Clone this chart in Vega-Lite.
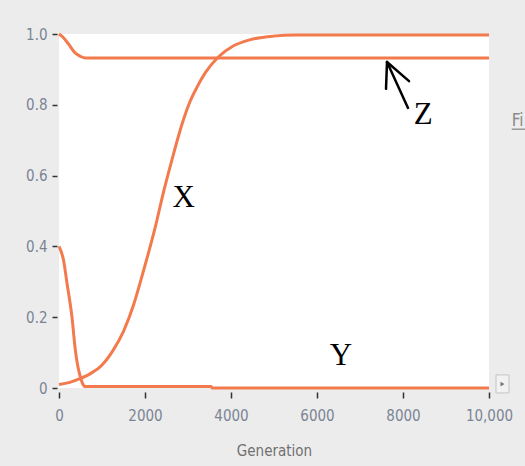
{
  "$schema": "https://vega.github.io/schema/vega-lite/v6.json",
  "autosize": {"type": "none"},
  "padding": {"left": 59, "top": 34, "right": 36, "bottom": 78},
  "width": 430,
  "height": 354,
  "background": "#ececec",
  "view": {"fill": "white", "stroke": null},
  "config": {
    "axis": {
      "grid": false,
      "domain": false,
      "labelFont": "DejaVu Sans Condensed",
      "labelFontSize": 15,
      "labelColor": "#7b8494",
      "tickColor": "#333333",
      "tickWidth": 1.5,
      "titleFont": "DejaVu Sans Condensed",
      "titleFontSize": 15,
      "titleFontWeight": "normal",
      "titleColor": "#707070"
    }
  },
  "layer": [
    {
      "data": {
        "values": [
          {"series": "X", "gen": 0, "value": 0.010},
          {"series": "X", "gen": 250, "value": 0.016},
          {"series": "X", "gen": 500, "value": 0.027},
          {"series": "X", "gen": 750, "value": 0.042},
          {"series": "X", "gen": 1000, "value": 0.065},
          {"series": "X", "gen": 1250, "value": 0.105},
          {"series": "X", "gen": 1500, "value": 0.160},
          {"series": "X", "gen": 1735, "value": 0.235},
          {"series": "X", "gen": 1967, "value": 0.332},
          {"series": "X", "gen": 2240, "value": 0.455},
          {"series": "X", "gen": 2433, "value": 0.555},
          {"series": "X", "gen": 2628, "value": 0.645},
          {"series": "X", "gen": 2860, "value": 0.745},
          {"series": "X", "gen": 3050, "value": 0.810},
          {"series": "X", "gen": 3210, "value": 0.850},
          {"series": "X", "gen": 3400, "value": 0.890},
          {"series": "X", "gen": 3705, "value": 0.935},
          {"series": "X", "gen": 4050, "value": 0.966},
          {"series": "X", "gen": 4450, "value": 0.984},
          {"series": "X", "gen": 4980, "value": 0.994},
          {"series": "X", "gen": 5500, "value": 0.997},
          {"series": "X", "gen": 10000, "value": 0.997},
          {"series": "Y", "gen": 0, "value": 0.400},
          {"series": "Y", "gen": 107, "value": 0.360},
          {"series": "Y", "gen": 186, "value": 0.296},
          {"series": "Y", "gen": 302, "value": 0.200},
          {"series": "Y", "gen": 380, "value": 0.107},
          {"series": "Y", "gen": 440, "value": 0.060},
          {"series": "Y", "gen": 495, "value": 0.032},
          {"series": "Y", "gen": 550, "value": 0.012},
          {"series": "Y", "gen": 612, "value": 0.004},
          {"series": "Y", "gen": 3540, "value": 0.004},
          {"series": "Y", "gen": 3560, "value": 0.0},
          {"series": "Y", "gen": 10000, "value": 0.0},
          {"series": "Z", "gen": 0, "value": 1.0},
          {"series": "Z", "gen": 100, "value": 0.99},
          {"series": "Z", "gen": 220, "value": 0.972},
          {"series": "Z", "gen": 380, "value": 0.946},
          {"series": "Z", "gen": 500, "value": 0.937},
          {"series": "Z", "gen": 610, "value": 0.932},
          {"series": "Z", "gen": 10000, "value": 0.932}
        ]
      },
      "mark": {"type": "line", "color": "#f37a4c", "strokeWidth": 3, "interpolate": "monotone"},
      "encoding": {
        "x": {
          "field": "gen", "type": "quantitative",
          "scale": {"domain": [0, 10000], "nice": false},
          "title": "Generation",
          "axis": {
            "values": [0, 2000, 4000, 6000, 8000, 10000],
            "labelExpr": "datum.value == 10000 ? '10,000' : '' + datum.value",
            "tickSize": 6,
            "offset": 4,
            "labelPadding": 10,
            "labelFlush": false,
            "labelOverlap": false,
            "titlePadding": 20
          }
        },
        "y": {
          "field": "value", "type": "quantitative",
          "scale": {"domain": [0, 1], "nice": false},
          "title": null,
          "axis": {
            "values": [0, 0.1, 0.2, 0.3, 0.4, 0.5, 0.6, 0.7, 0.8, 0.9, 1.0],
            "labelExpr": "round(datum.value * 10) % 2 == 0 ? (datum.value == 0 ? '0' : format(datum.value, '.1f')) : ''",
            "tickSize": 5,
            "offset": 2,
            "labelPadding": 5,
            "labelOverlap": false
          }
        },
        "detail": {"field": "series"}
      }
    },
    {
      "data": {
        "values": [
          {"gen": 8116, "value": 0.791, "gen2": 7628, "value2": 0.921},
          {"gen": 7605, "value": 0.845, "gen2": 7628, "value2": 0.921},
          {"gen": 8140, "value": 0.867, "gen2": 7628, "value2": 0.921}
        ]
      },
      "mark": {"type": "rule", "color": "black", "strokeWidth": 2.5, "strokeCap": "round"},
      "encoding": {
        "x": {"field": "gen", "type": "quantitative", "title": "Generation"},
        "y": {"field": "value", "type": "quantitative", "title": null},
        "x2": {"field": "gen2"},
        "y2": {"field": "value2"}
      }
    },
    {
      "data": {
        "values": [
          {"label": "X", "gen": 2902, "value": 0.512},
          {"label": "Y", "gen": 6558, "value": 0.065},
          {"label": "Z", "gen": 8472, "value": 0.746}
        ]
      },
      "mark": {"type": "text", "font": "Liberation Serif", "fontSize": 31, "color": "black", "align": "center", "baseline": "alphabetic"},
      "encoding": {
        "x": {"field": "gen", "type": "quantitative", "title": "Generation"},
        "y": {"field": "value", "type": "quantitative", "title": null},
        "text": {"field": "label"}
      }
    },
    {
      "data": {"values": [{"label": "Fi", "gen": 10528, "value": 0.741}]},
      "mark": {"type": "text", "font": "DejaVu Sans Condensed", "fontSize": 17, "color": "#8a8a8a", "align": "left", "baseline": "alphabetic"},
      "encoding": {
        "x": {"field": "gen", "type": "quantitative", "title": "Generation"},
        "y": {"field": "value", "type": "quantitative", "title": null},
        "text": {"field": "label"}
      }
    },
    {
      "data": {"values": [{"gen": 10528, "gen2": 10860, "value": 0.731}]},
      "mark": {"type": "rule", "color": "#9a9a9a", "strokeWidth": 1.5},
      "encoding": {
        "x": {"field": "gen", "type": "quantitative", "title": "Generation"},
        "x2": {"field": "gen2"},
        "y": {"field": "value", "type": "quantitative", "title": null}
      }
    },
    {
      "data": {"values": [{"gen": 10163, "gen2": 10465, "value": 0.037, "value2": -0.014}]},
      "mark": {"type": "rect", "fill": "#f2f2f2", "stroke": "#c4c4c4", "strokeWidth": 1},
      "encoding": {
        "x": {"field": "gen", "type": "quantitative", "title": "Generation"},
        "x2": {"field": "gen2"},
        "y": {"field": "value", "type": "quantitative", "title": null},
        "y2": {"field": "value2"}
      }
    },
    {
      "data": {"values": [{"gen": 10314, "value": 0.011}]},
      "mark": {"type": "point", "shape": "triangle-right", "filled": true, "color": "#777777", "size": 22, "opacity": 1},
      "encoding": {
        "x": {"field": "gen", "type": "quantitative", "title": "Generation"},
        "y": {"field": "value", "type": "quantitative", "title": null}
      }
    }
  ]
}
